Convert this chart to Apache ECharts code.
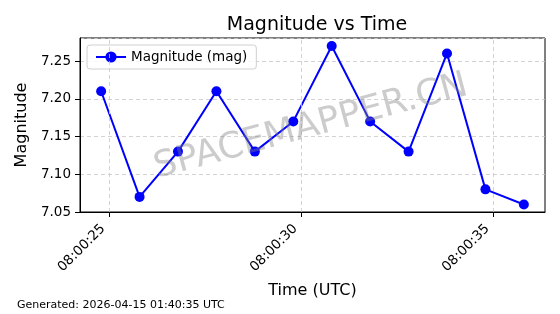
<!DOCTYPE html>
<html><head><meta charset="utf-8">
<script src="https://cdn.jsdelivr.net/npm/echarts@6/dist/echarts.min.js"></script>
<style>html,body{margin:0;padding:0;background:#fff}#c{width:560px;height:314px}</style>
</head><body><div id="c"></div>
<script>
// Seconds after 08:00:00 UTC for each observation
var timeSec = [24.8, 25.8, 26.8, 27.8, 28.8, 29.8, 30.8, 31.8, 32.8, 33.8, 34.8, 35.8];
var magnitude = [7.21, 7.07, 7.13, 7.21, 7.13, 7.17, 7.27, 7.17, 7.13, 7.26, 7.08, 7.06];
var xTickSec = [25, 30, 35];
var seriesName = 'Magnitude (mag)';
var titleText = 'Magnitude vs Time';
var xName = 'Time (UTC)';
var yName = 'Magnitude';
var footer = 'Generated: 2026-04-15 01:40:35 UTC';
var watermark = 'SPACEMAPPER.CN';

var FONT = 'DejaVu Sans';
var chart = echarts.init(document.getElementById('c'), null, {renderer: 'canvas'});
function fmt(v){ var s = Math.round(v); return '08:00:' + (s < 10 ? '0' + s : s); }
var data = timeSec.map(function(t, i){ return [t, magnitude[i]]; });
chart.setOption({
  animation: false,
  backgroundColor: '#fff',
  title: {
    text: titleText, left: 312, top: 11, textAlign: 'center',
    textStyle: {fontFamily: FONT, fontSize: 19, fontWeight: 'normal', color: '#000'}
  },
  grid: {left: 80, right: 15, top: 38, bottom: 102, show: true, borderColor: '#000', borderWidth: 1, containLabel: false},
  legend: {
    left: 87, top: 45, padding: [5, 9, 5, 8], itemGap: 5,
    backgroundColor: 'rgba(255,255,255,0.8)', borderColor: '#d0d0d0', borderWidth: 1, borderRadius: 3,
    itemWidth: 30, itemHeight: 14,
    itemStyle: {color: '#0000ff', borderWidth: 0},
    lineStyle: {color: '#0000ff', width: 2},
    textStyle: {fontFamily: FONT, fontSize: 13.5, color: '#000'},
    data: [seriesName]
  },
  xAxis: {
    type: 'value', min: 24.25, max: 36.35,
    name: xName, nameLocation: 'middle', nameGap: 71,
    nameTextStyle: {fontFamily: FONT, fontSize: 16, color: '#000'},
    axisLine: {show: true, lineStyle: {color: '#000'}},
    axisTick: {show: true, customValues: xTickSec, length: 5, inside: false, lineStyle: {color: '#000'}},
    axisLabel: {customValues: xTickSec, rotate: 45, margin: 9, padding: [0, 8, 0, 0], formatter: fmt, fontFamily: FONT, fontSize: 13.5, color: '#000'},
    splitLine: {show: false}
  },
  yAxis: {
    type: 'value', min: 7.05, max: 7.2805, interval: 0.05,
    name: yName, nameLocation: 'middle', nameGap: 46, nameRotate: 90,
    nameTextStyle: {fontFamily: FONT, fontSize: 16, color: '#000'},
    axisLine: {show: true, lineStyle: {color: '#000'}},
    axisTick: {show: true, length: 5, lineStyle: {color: '#000'}},
    axisLabel: {showMaxLabel: false, margin: 9, formatter: function(v){ return v.toFixed(2); }, fontFamily: FONT, fontSize: 13.5, color: '#000'},
    splitLine: {show: true, lineStyle: {color: '#c8c8c8', type: [4, 3], width: 0.8}}
  },
  graphic: [
    {type: 'text', left: 17, top: 300, style: {text: footer, font: '11px "DejaVu Sans"', fill: '#000'}},
    {type: 'text', x: 311, y: 127, rotation: 15 * Math.PI / 180, z: 100,
     style: {text: watermark, font: '36px "DejaVu Sans"', fill: 'rgba(128,128,128,0.4)', align: 'center', verticalAlign: 'middle'}}
  ],
  series: [{
    name: seriesName, type: 'line', data: data,
    symbol: 'circle', symbolSize: 10, showSymbol: true,
    lineStyle: {color: '#0000ff', width: 2},
    itemStyle: {color: '#0000ff', borderWidth: 0},
    markLine: {
      silent: true, symbol: 'none', label: {show: false},
      lineStyle: {color: '#c8c8c8', type: [4, 3], width: 0.8},
      data: xTickSec.map(function(v){ return {xAxis: v}; })
    }
  }]
});
</script></body></html>
